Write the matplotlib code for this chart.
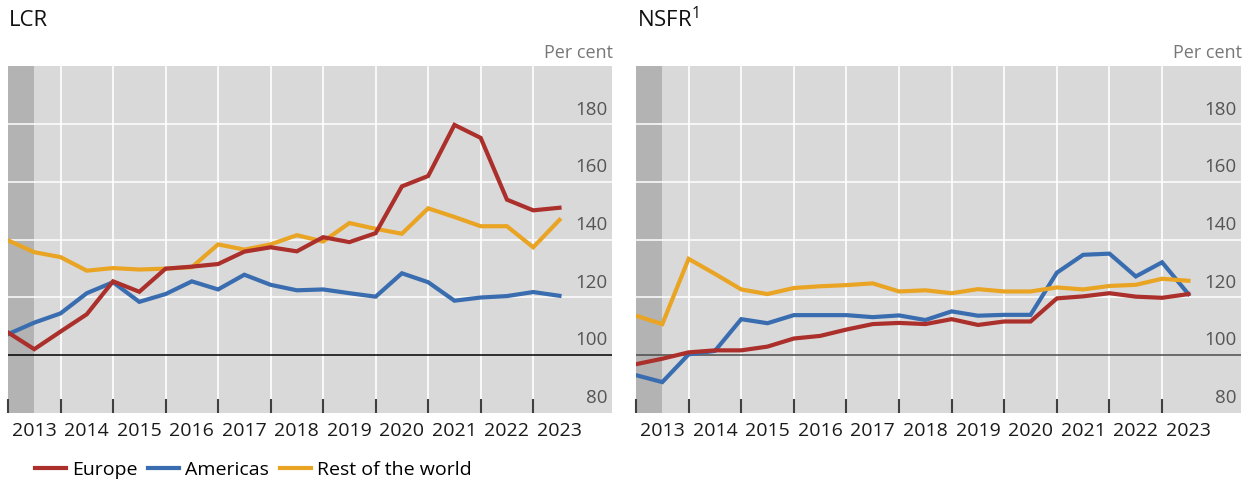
import numpy as np
import matplotlib
matplotlib.use("Agg")
import matplotlib.pyplot as plt
from matplotlib.ticker import FixedLocator

plt.rcParams['font.family'] = ['Open Sans', 'DejaVu Sans']
plt.rcParams['mathtext.fontset'] = 'custom'
plt.rcParams['mathtext.rm'] = 'Open Sans'

# half-year observations, 2013 H1 .. 2023 H2
periods = 2013 + 0.5 * np.arange(22)
years = list(range(2013, 2024))
yticks = [80, 100, 120, 140, 160, 180]

lcr_europe = [107.8, 102.0, 108.1, 114.1, 125.5, 121.9, 129.9, 130.6, 131.5, 135.8, 137.3,
              135.9, 140.8, 139.1, 142.2, 158.4, 162.0, 179.7, 175.2, 153.8, 150.1, 151.0]
lcr_americas = [107.2, 111.2, 114.4, 121.4, 125.2, 118.4, 121.1, 125.5, 122.7, 127.8, 124.3,
                122.4, 122.7, 121.4, 120.2, 128.3, 125.2, 118.8, 119.9, 120.4, 121.8, 120.5]
lcr_rest = [139.7, 135.6, 133.9, 129.2, 130.1, 129.6, 129.9, 130.4, 138.3, 136.5, 138.3,
            141.5, 139.3, 145.7, 143.7, 142.0, 150.8, 147.8, 144.6, 144.6, 137.3, 146.8]

nsfr_europe = [96.8, 98.7, 100.9, 101.6, 101.6, 102.9, 105.7, 106.6, 108.8, 110.7, 111.1,
               110.7, 112.4, 110.4, 111.6, 111.6, 119.6, 120.3, 121.4, 120.2, 119.8, 121.1]
nsfr_americas = [93.0, 90.6, 100.2, 101.4, 112.4, 111.0, 113.8, 113.8, 113.8, 113.1, 113.7,
                 112.1, 115.1, 113.6, 113.9, 113.9, 128.5, 134.7, 135.1, 127.2, 132.1, 121.1]
nsfr_rest = [113.6, 110.7, 133.3, 128.1, 122.7, 121.1, 123.2, 123.8, 124.2, 124.8, 122.0,
             122.4, 121.4, 122.8, 122.0, 122.0, 123.4, 122.7, 123.9, 124.3, 126.4, 125.7]

RED = '#ab2f2b'
BLUE = '#3a6db0'
ORANGE = '#eaa424'
BG = '#d9d9d9'

W, H = 1254, 484
fig = plt.figure(figsize=(W / 100, H / 100), dpi=100)


def make_panel(x0, x1, title, europe, americas, rest, baseline_color):
    ax = fig.add_axes([x0 / W, 1 - 412.7 / H, (x1 - x0) / W, 346.4 / H])
    ax.set_facecolor(BG)
    ax.set_xlim(2013, 2024.5)
    ax.set_ylim(80, 200)
    for s in ax.spines.values():
        s.set_visible(False)

    ax.axvspan(2013, 2013.5, color='#b3b3b3', lw=0, zorder=0)
    for yv in [120, 140, 160, 180]:
        ax.axhline(yv, color='white', lw=1.2, alpha=0.9, zorder=1)
    for yr in years[1:]:
        ax.axvline(yr, color='white', lw=1.2, zorder=1)
    ax.axhline(100, color=baseline_color, lw=1.1, zorder=2)

    ax.plot(periods, europe, color=RED, lw=3, zorder=4, label='Europe', solid_joinstyle='miter')
    ax.plot(periods, americas, color=BLUE, lw=3, zorder=3, label='Americas', solid_joinstyle='miter')
    ax.plot(periods, rest, color=ORANGE, lw=3, zorder=3, label='Rest of the world', solid_joinstyle='miter')

    ax.xaxis.set_major_locator(FixedLocator(years))
    ax.xaxis.set_minor_locator(FixedLocator([y + 0.5 for y in years]))
    ax.set_xticklabels([], minor=False)
    ax.set_xticklabels([str(y) for y in years], minor=True)
    ax.tick_params(axis='x', which='major', direction='in', length=10, width=1.5, color='#404040')
    ax.tick_params(axis='x', which='minor', length=0, pad=7, labelsize=14, labelcolor='#1a1a1a')
    ax.set_yticks([])

    for yv in yticks:
        ax.text(0.992, yv + 1.9, str(yv), transform=ax.get_yaxis_transform(),
                ha='right', va='bottom', fontsize=13.5, color='#555555')

    fig.text(x0 / W + 0.001, 1 - 20 / H, title, ha='left', va='center', fontsize=16, color='#111111')
    fig.text((x1 + 1) / W, 1 - 53 / H, 'Per cent', ha='right', va='center', fontsize=13, color='#777777')
    return ax


ax1 = make_panel(8, 612, 'LCR', lcr_europe, lcr_americas, lcr_rest, 'black')
ax2 = make_panel(636, 1241, r'NSFR$\mathregular{^{1}}$', nsfr_europe, nsfr_americas, nsfr_rest, '#4d4d4d')

handles, labels = ax1.get_legend_handles_labels()
fig.legend(handles, labels, loc='center left', bbox_to_anchor=(35 / W, 1 - 470 / H),
           ncol=3, frameon=False, fontsize=14, handlelength=1.6, handletextpad=0.3,
           columnspacing=0.55, borderpad=0, borderaxespad=0)

fig.savefig('out.png', dpi=100)
